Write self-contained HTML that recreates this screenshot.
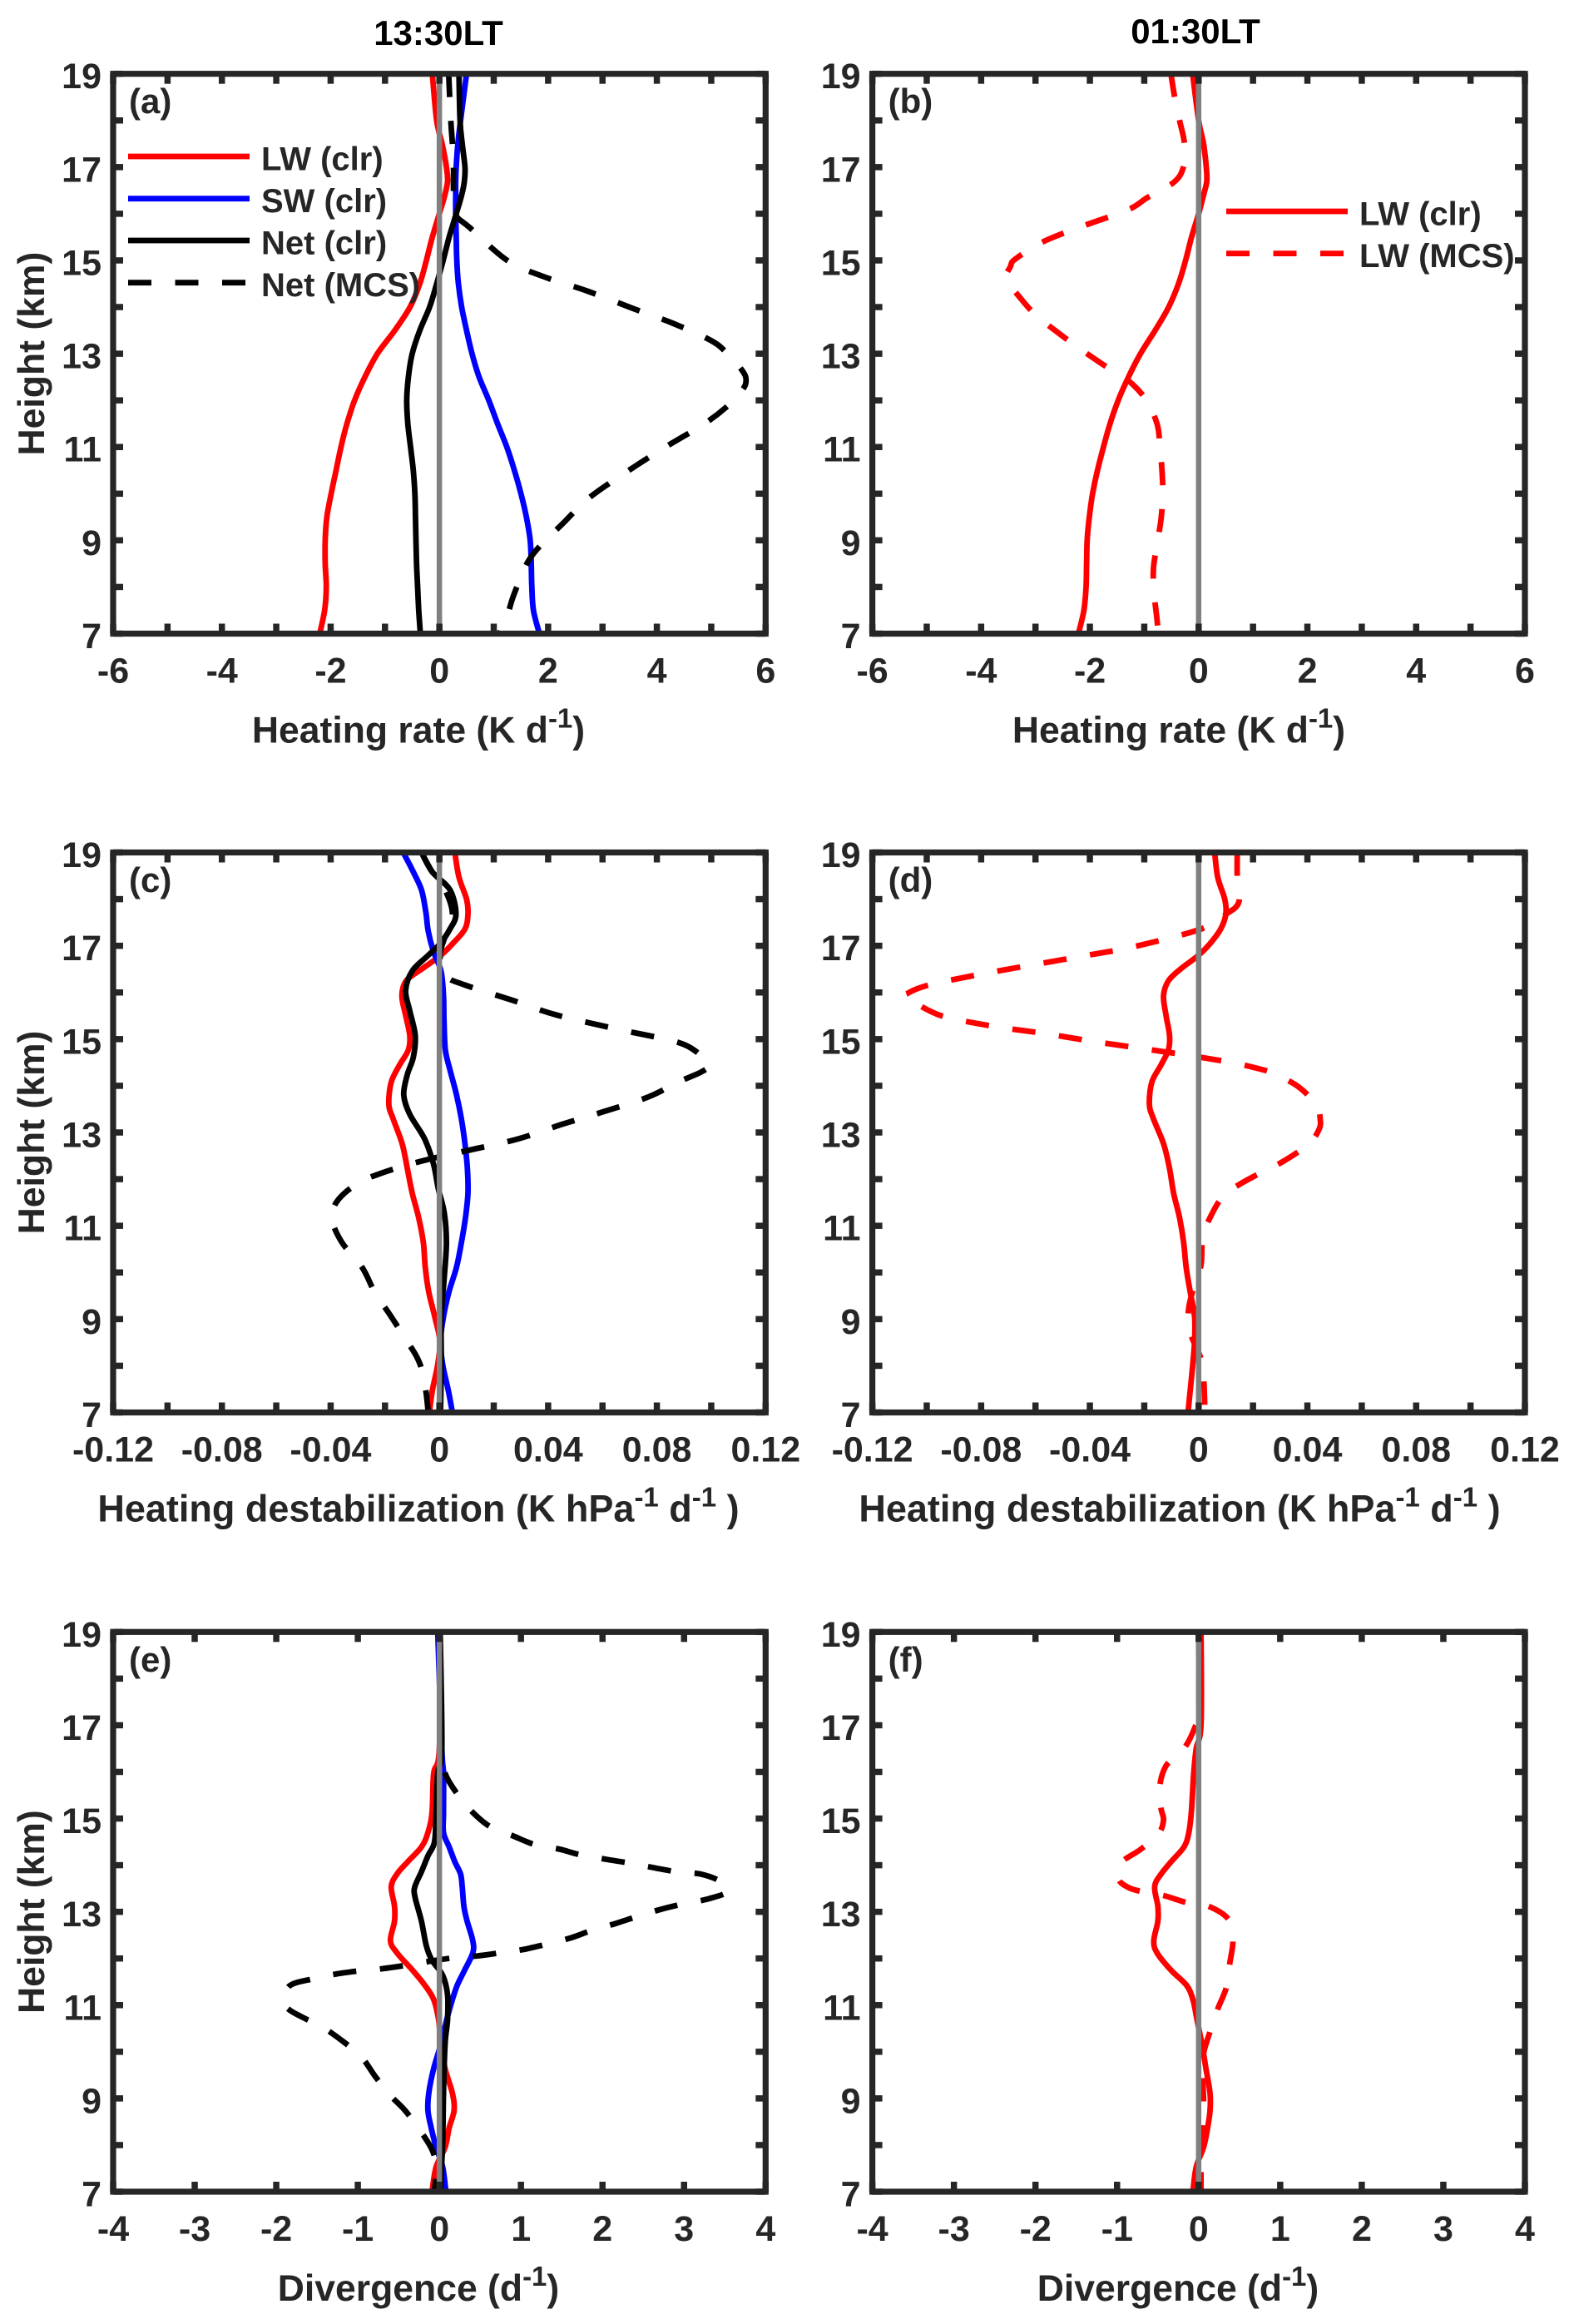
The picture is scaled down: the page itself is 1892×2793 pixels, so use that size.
<!DOCTYPE html>
<html lang="en">
<head>
<meta charset="utf-8">
<title>Heating rate, destabilization and divergence profiles</title>
<style>
html,body{margin:0;padding:0;background:#fff;}
svg{display:block;}
text{font-family:"Liberation Sans",Arial,sans-serif;font-weight:bold;fill:#262626;}
</style>
</head>
<body>
<svg id="figure" xmlns="http://www.w3.org/2000/svg" width="1892" height="2793" viewBox="0 0 1892 2793">
  <rect x="0" y="0" width="1892" height="2793" fill="#fff"/>
  <text x="527" y="54" font-size="42" text-anchor="middle" style="fill:#000">13:30LT</text>
  <text x="1437" y="52" font-size="42" text-anchor="middle" style="fill:#000">01:30LT</text>
</svg>
<script>
// ---- shared tick data ----
const heightTicks = [7,8,9,10,11,12,13,14,15,16,17,18,19];
const heightLabels = [7,9,11,13,15,17,19];
const heatTicks = [-6,-5,-4,-3,-2,-1,0,1,2,3,4,5,6];
const heatLabels = [-6,-4,-2,0,2,4,6];
const destabTicks = [-0.12,-0.1,-0.08,-0.06,-0.04,-0.02,0,0.02,0.04,0.06,0.08,0.1,0.12];
const destabLabels = [-0.12,-0.08,-0.04,0,0.04,0.08,0.12];
const divTicks = [-4,-3,-2,-1,0,1,2,3,4];
const divLabels = [-4,-3,-2,-1,0,1,2,3,4];

// ---- panel (a) heating rate 13:30 ----
const aKm = [19,18,17.5,17,16.7,16.4,16,15.5,15,14.5,14,13.5,13,12.5,12,11.5,11,10.5,10,9.5,9,8.5,8,7.5,7];
const aLw = [-0.13,-0.05,0.05,0.13,0.15,0.1,0,-0.13,-0.24,-0.36,-0.54,-0.82,-1.14,-1.37,-1.56,-1.7,-1.81,-1.9,-1.99,-2.07,-2.1,-2.1,-2.08,-2.11,-2.2];
const aSw = [0.5,0.39,0.34,0.31,0.3,0.3,0.3,0.31,0.32,0.35,0.41,0.5,0.6,0.73,0.91,1.07,1.24,1.38,1.5,1.6,1.67,1.69,1.7,1.73,1.84];
const aNet = [0.36,0.38,0.42,0.47,0.46,0.41,0.31,0.18,0.07,-0.05,-0.18,-0.36,-0.5,-0.57,-0.6,-0.58,-0.53,-0.48,-0.45,-0.44,-0.43,-0.42,-0.4,-0.38,-0.35];
const aMcsKm = [19,18,17.5,17,16.5,16,15.7,15,14.66,14.34,13.97,13.65,13.28,13.01,12.64,12.43,12.22,11.85,11.48,11,10.42,9.89,9.36,8.94,8.62,8.3,7.77,7.35,7];
const aMcs = [0.17,0.21,0.24,0.26,0.26,0.29,0.56,1.25,1.9,2.73,3.56,4.3,5,5.29,5.57,5.64,5.57,5.27,4.85,4.16,3.38,2.73,2.27,1.9,1.67,1.53,1.35,1.24,1.1];

// ---- panel (b) heating rate 01:30 ----
const bKm = [19,18,17.5,17,16.7,16.4,16,15.5,15,14.5,14,13.5,13,12.5,12,11.5,11,10.5,10,9.5,9,8.5,8,7.5,7];
const bLw = [-0.11,0,0.09,0.14,0.15,0.09,0,-0.13,-0.24,-0.37,-0.55,-0.8,-1.07,-1.29,-1.48,-1.63,-1.75,-1.86,-1.95,-2.01,-2.05,-2.06,-2.07,-2.11,-2.21];
const bMcsKm = [19,18.5,18,17.5,17,16.67,16.35,16.09,15.74,15.4,15.03,14.87,14.6,14.18,13.81,13.49,13.17,12.8,12.59,12.33,11.96,11.48,11,10.42,10,9.47,8.94,8.4,7.88,7.35,7];
const bMcs = [-0.51,-0.44,-0.35,-0.26,-0.28,-0.46,-0.94,-1.29,-2.12,-2.86,-3.37,-3.46,-3.53,-3.27,-2.98,-2.63,-2.26,-1.8,-1.52,-1.2,-0.94,-0.76,-0.71,-0.67,-0.66,-0.69,-0.76,-0.83,-0.82,-0.77,-0.74];

// ---- panel (c) destabilization 13:30 ----
const cLwKm = [19,18.47,18,17.68,17.36,17.04,16.78,16.51,16.25,15.93,15.51,15.08,14.77,14.45,14.08,13.6,13.29,12.76,12.23,11.7,11.17,10.64,10.11,9.58,9.05,8.52,8,7.47,7];
const cLw = [0.0057,0.0072,0.01,0.0105,0.0094,0.0048,0.0002,-0.0063,-0.0122,-0.0138,-0.0124,-0.0109,-0.0114,-0.0146,-0.0177,-0.0186,-0.017,-0.0137,-0.0118,-0.01,-0.0076,-0.0059,-0.0052,-0.0039,-0.0017,0.0002,-0.0007,-0.0026,-0.0037];
const cSwKm = [19,18.63,18.2,17.73,17.31,16.88,16.46,15.93,15.4,14.77,14.34,13.81,13.29,12.76,12.23,11.7,11.17,10.64,10.11,9.58,9.05,8.52,8,7.47,7];
const cSw = [-0.0133,-0.01,-0.0066,-0.005,-0.0041,-0.0022,0.0006,0.0015,0.0017,0.0022,0.0039,0.0063,0.0081,0.0094,0.0103,0.0105,0.0096,0.0081,0.0063,0.0035,0.0015,0.0004,0.0013,0.0033,0.0048];
const cNetKm = [19,18.58,18.2,17.68,17.36,17.04,16.78,16.46,16.04,15.61,15.08,14.61,14.24,13.81,13.39,12.86,12.33,11.8,11.28,10.64,9.9,9.05,8,7];
const cNet = [-0.0066,-0.0026,0.0039,0.0061,0.0039,0.0002,-0.0044,-0.01,-0.0124,-0.0109,-0.0089,-0.0096,-0.0118,-0.0131,-0.0109,-0.0054,-0.0022,-0.0004,0.0018,0.0026,0.0018,0.0007,0.0007,0.0004];
const cMcsKm = [19,18.58,18.2,17.68,17.2,16.78,16.35,16.16,15.83,15.51,15.19,14.93,14.66,14.45,14.29,14.08,13.76,13.44,13.18,12.86,12.6,12.39,12.17,11.96,11.7,11.43,11.12,10.64,10.11,9.58,9.05,8.52,8.21,7.94,7.47,7];
const cMcs = [-0.0066,-0.0026,0.0021,0.0048,0.0021,0.0002,0.0026,0.0094,0.027,0.0435,0.0675,0.0878,0.0961,0.0993,0.0961,0.0878,0.0768,0.0601,0.0454,0.0288,0.0094,-0.0063,-0.0192,-0.0284,-0.0349,-0.0386,-0.0395,-0.0358,-0.0284,-0.0238,-0.0177,-0.0118,-0.0085,-0.0066,-0.005,-0.0041];

// ---- panel (d) destabilization 01:30 ----
const dLwKm = [19,18.47,18,17.68,17.36,17.04,16.78,16.51,16.25,15.93,15.51,15.08,14.77,14.45,14.08,13.6,13.29,12.76,12.23,11.7,11.17,10.64,10.11,9.58,9.05,8.52,8,7.47,7];
const dLw = [0.0059,0.007,0.0096,0.01,0.0081,0.0041,-0.0004,-0.0065,-0.0111,-0.0129,-0.012,-0.0107,-0.0111,-0.0138,-0.0172,-0.0181,-0.0166,-0.0129,-0.0107,-0.0092,-0.007,-0.0055,-0.0046,-0.0031,-0.0015,-0.0015,-0.0022,-0.0031,-0.0039];
const dMcsKm = [19,18.47,17.94,17.68,17.36,16.99,16.8,16.62,16.44,16.25,16.12,15.98,15.91,15.61,15.45,15.26,15.12,14.96,14.81,14.66,14.5,14.38,14.26,13.97,13.58,13.29,13.07,12.76,12.39,12.17,11.91,11.65,11.22,10.75,10.16,9.74,9.21,8.74,8.15,7.76,7.23,7];
const dMcs = [0.0142,0.0142,0.0148,0.0102,0.0009,-0.0231,-0.0406,-0.0582,-0.0757,-0.0923,-0.1015,-0.1071,-0.1076,-0.0991,-0.0914,-0.0738,-0.0567,-0.0397,-0.0222,-0.0046,0.012,0.0212,0.0277,0.0369,0.0434,0.0447,0.0443,0.0406,0.0314,0.024,0.0157,0.0092,0.0046,0.0015,0.0009,-0.0015,-0.0037,-0.0033,0.0009,0.0018,0.0022,0.0022];

// ---- panel (e) divergence 13:30 ----
const eKm = [19,16.5,15.97,15.13,14.7,14.39,14.07,13.81,13.54,13.12,12.8,12.38,12.12,11.75,11.43,11.12,10.69,10.17,9.64,9.11,8.74,8.37,7.95,7.53,7];
const eLw = [0.01,0,-0.07,-0.09,-0.14,-0.22,-0.39,-0.52,-0.59,-0.55,-0.55,-0.6,-0.52,-0.33,-0.18,-0.07,-0.01,0.02,0.07,0.16,0.18,0.12,0.07,-0.04,-0.09];
const eSw = [-0.02,0.03,0.05,0.05,0.05,0.12,0.19,0.26,0.28,0.3,0.34,0.41,0.41,0.31,0.22,0.16,0.09,0.02,-0.07,-0.13,-0.14,-0.1,-0.04,0.04,0.08];
const eNetKm = [19,16.5,15.97,15.13,14.5,14.2,13.86,13.54,13.33,12.8,12.27,11.96,11.64,11.22,10.69,10.17,9.11,8.05,7];
const eNet = [0.01,0.03,-0.02,-0.04,-0.06,-0.14,-0.22,-0.3,-0.3,-0.22,-0.16,-0.09,0.04,0.1,0.1,0.07,0.05,0.04,0.01];
const eMcsKm = [19,17.5,16.5,15.97,15.5,15.13,14.83,14.63,14.44,14.34,14.21,14.05,13.86,13.81,13.65,13.44,13.28,13.17,13.05,12.91,12.75,12.59,12.44,12.3,12.19,12.12,12.05,12.01,11.94,11.85,11.78,11.73,11.66,11.56,11.41,11.06,10.9,10.75,10.5,10.22,9.9,9.48,9.08,8.74,8.32,7.9,7.53,7];
const eMcs = [0,0.01,0.02,0.07,0.23,0.41,0.62,0.9,1.17,1.48,1.76,2.31,2.9,3.2,3.45,3.54,3.3,2.99,2.71,2.44,2.16,1.85,1.61,1.3,1.02,0.74,0.44,0.16,-0.12,-0.42,-0.7,-1,-1.29,-1.56,-1.84,-1.9,-1.84,-1.69,-1.41,-1.18,-0.96,-0.79,-0.61,-0.42,-0.24,-0.09,-0.04,-0.06];

// ---- panel (f) divergence 01:30 ----
const fKm = [19,17.03,16.5,15.97,15.13,14.7,14.39,14.07,13.81,13.54,13.12,12.8,12.38,12.12,11.75,11.43,11.12,10.69,10.17,9.64,9.11,8.74,8.37,7.95,7.53,7];
const fLw = [0.03,0.03,-0.03,-0.06,-0.09,-0.12,-0.18,-0.34,-0.46,-0.54,-0.5,-0.5,-0.55,-0.51,-0.34,-0.15,-0.07,-0.02,0.04,0.09,0.14,0.14,0.11,0.06,-0.03,-0.07];
const fMcsKm = [19,17.3,16.94,16.5,16.13,15.65,15.21,14.97,14.68,14.34,14.05,13.7,13.52,13.44,13.35,13.2,13.12,12.83,12.38,11.88,11.38,10.9,10.43,9.96,9.48,8.95,8.42,7.9,7];
const fMcs = [0,0,-0.05,-0.18,-0.4,-0.48,-0.46,-0.43,-0.49,-0.71,-0.95,-0.98,-0.86,-0.71,-0.43,-0.15,0.12,0.37,0.42,0.38,0.34,0.23,0.14,0.06,0.05,0.06,0.05,0.03,0.03];

const NS = 'http://www.w3.org/2000/svg';
const fig = document.getElementById('figure');
const INK = '#262626';

function mk(parent, tag, attrs) {
  const el = document.createElementNS(NS, tag);
  for (const k in attrs) el.setAttribute(k, attrs[k]);
  parent.appendChild(el);
  return el;
}

function smoothPath(pts) {
  let d = 'M' + pts[0][0].toFixed(1) + ' ' + pts[0][1].toFixed(1);
  for (let i = 0; i < pts.length - 1; i++) {
    const p0 = pts[Math.max(0, i - 1)], p1 = pts[i], p2 = pts[i + 1], p3 = pts[Math.min(pts.length - 1, i + 2)];
    const c1x = p1[0] + (p2[0] - p0[0]) / 6, c1y = p1[1] + (p2[1] - p0[1]) / 6;
    const c2x = p2[0] - (p3[0] - p1[0]) / 6, c2y = p2[1] - (p3[1] - p1[1]) / 6;
    d += 'C' + c1x.toFixed(1) + ' ' + c1y.toFixed(1) + ' ' + c2x.toFixed(1) + ' ' + c2y.toFixed(1) + ' ' + p2[0].toFixed(1) + ' ' + p2[1].toFixed(1);
  }
  return d;
}

function drawSeries(g, p, s) {
  const pts = s.km.map((k, i) => [p.x(s.val[i]), p.y(k)]);
  const el = mk(g, 'path', {
    d: smoothPath(pts), fill: 'none', stroke: s.color,
    'stroke-width': 6.8, 'stroke-linejoin': 'round',
    'clip-path': 'url(#clip-' + p.id + ')'
  });
  if (s.dashed) {
    el.setAttribute('stroke-dasharray', '28 28.5');
  }
  
  
}

function drawPanel(p) {
  const g = mk(fig, 'g', {});
  
  

  p.x = v => p.left + (v - p.xMin) / (p.xMax - p.xMin) * (p.right - p.left);
  p.y = v => p.bottom - (v - 7) / 12 * (p.bottom - p.top);

  const cp = mk(g, 'clipPath', {id: 'clip-' + p.id});
  mk(cp, 'rect', {x: p.left, y: p.top, width: p.right - p.left, height: p.bottom - p.top});

  p.series.forEach(s => drawSeries(g, p, s));

  const zero = mk(g, 'line', {x1: p.x(0), x2: p.x(0), y1: p.top, y2: p.bottom, stroke: '#808080', 'stroke-width': 6.5});
  
  

  const axes = mk(g, 'g', {stroke: INK, 'stroke-width': 7.5});
  
  
  const tl = 12;
  p.xTicks.forEach(v => {
    mk(axes, 'line', {x1: p.x(v), x2: p.x(v), y1: p.bottom, y2: p.bottom - tl});
    mk(axes, 'line', {x1: p.x(v), x2: p.x(v), y1: p.top, y2: p.top + tl});
  });
  heightTicks.forEach(v => {
    mk(axes, 'line', {x1: p.left, x2: p.left + tl, y1: p.y(v), y2: p.y(v)});
    mk(axes, 'line', {x1: p.right, x2: p.right - tl, y1: p.y(v), y2: p.y(v)});
  });

  const box = mk(g, 'rect', {x: p.left, y: p.top, width: p.right - p.left, height: p.bottom - p.top, fill: 'none', stroke: INK, 'stroke-width': 7.2});
  
  

  p.xLabels.forEach(v => {
    const t = mk(g, 'text', {x: p.x(v), y: p.bottom + 59, 'font-size': 43, 'text-anchor': 'middle'});
    t.textContent = String(v);
    
    
  });
  heightLabels.forEach(v => {
    const t = mk(g, 'text', {x: p.left - 14, y: p.y(v) + 17.5, 'font-size': 43, 'text-anchor': 'end'});
    t.textContent = String(v);
    
    
  });

  const letter = mk(g, 'text', {x: p.left + 19, y: p.top + 47.5, 'font-size': 42});
  letter.textContent = '(' + p.id + ')';
  
  

  const title = mk(g, 'text', {x: p.titleX, y: p.bottom + 131, 'font-size': p.titleSize, 'text-anchor': 'middle'});
  
  
  p.title.forEach(part => {
    const ts = mk(title, 'tspan', {});
    ts.textContent = part[0];
    if (part[1] === 'sup') { ts.setAttribute('font-size', '33'); ts.setAttribute('dy', '-18'); }
    if (part[1] === 'down') { ts.setAttribute('dy', '18'); }
  });

  if (p.showHeight) {
    const yt = mk(g, 'text', {x: 0, y: 0, 'font-size': 44.5, 'text-anchor': 'middle',
      transform: 'translate(53 ' + ((p.top + p.bottom) / 2) + ') rotate(-90)'});
    yt.textContent = 'Height (km)';
    
    
  }

  if (p.legend) {
    p.legend.forEach(e => {
      const lg = mk(g, 'g', {});
      
      
      const ln = mk(lg, 'line', {x1: e.x, x2: e.x + 146, y1: e.y, y2: e.y, stroke: e.color, 'stroke-width': 6.8});
      if (e.dashed) ln.setAttribute('stroke-dasharray', '28 28.5');
      const t = mk(lg, 'text', {x: e.x + 160, y: e.y + 16.5, 'font-size': 40});
      t.textContent = e.label;
    });
  }
}

const RED = '#ff0000', BLUE = '#0000ff', BLACK = '#000000';
const heatTitle = [['Heating rate (K d'], ['-1', 'sup'], [')', 'down']];
const destabTitle = [['Heating destabilization (K hPa'], ['-1', 'sup'], [' d', 'down'], ['-1', 'sup'], [' )', 'down']];
const divTitle = [['Divergence (d'], ['-1', 'sup'], [')', 'down']];
const colL = [136, 920.3], colR = [1048.6, 1833];
const row1 = [88.7, 761.5], row2 = [1024.5, 1697.5], row3 = [1961.3, 2634];

drawPanel({id:'a', left:colL[0], right:colL[1], top:row1[0], bottom:row1[1], xMin:-6, xMax:6, xTicks:heatTicks, xLabels:heatLabels, titleX:503, titleSize:44.5, title:heatTitle, showHeight:true,
  series:[
    {name:'lw-clr', km:aKm, val:aLw, color:RED},
    {name:'sw-clr', km:aKm, val:aSw, color:BLUE},
    {name:'net-mcs', km:aMcsKm, val:aMcs, color:BLACK, dashed:true},
    {name:'net-clr', km:aKm, val:aNet, color:BLACK}
  ],
  legend:[
    {x:154, y:188, color:RED, label:'LW (clr)'},
    {x:154, y:238.7, color:BLUE, label:'SW (clr)'},
    {x:154, y:289, color:BLACK, label:'Net (clr)'},
    {x:154, y:339.7, color:BLACK, dashed:true, label:'Net (MCS)'}
  ]});
drawPanel({id:'b', left:colR[0], right:colR[1], top:row1[0], bottom:row1[1], xMin:-6, xMax:6, xTicks:heatTicks, xLabels:heatLabels, titleX:1417, titleSize:44.5, title:heatTitle, showHeight:false,
  series:[
    {name:'lw-mcs', km:bMcsKm, val:bMcs, color:RED, dashed:true},
    {name:'lw-clr', km:bKm, val:bLw, color:RED}
  ],
  legend:[
    {x:1474, y:254, color:RED, label:'LW (clr)'},
    {x:1474, y:304.6, color:RED, dashed:true, label:'LW (MCS)'}
  ]});
drawPanel({id:'c', left:colL[0], right:colL[1], top:row2[0], bottom:row2[1], xMin:-0.12, xMax:0.12, xTicks:destabTicks, xLabels:destabLabels, titleX:503, titleSize:45, title:destabTitle, showHeight:true,
  series:[
    {name:'lw-clr', km:cLwKm, val:cLw, color:RED},
    {name:'sw-clr', km:cSwKm, val:cSw, color:BLUE},
    {name:'net-mcs', km:cMcsKm, val:cMcs, color:BLACK, dashed:true},
    {name:'net-clr', km:cNetKm, val:cNet, color:BLACK}
  ]});
drawPanel({id:'d', left:colR[0], right:colR[1], top:row2[0], bottom:row2[1], xMin:-0.12, xMax:0.12, xTicks:destabTicks, xLabels:destabLabels, titleX:1418, titleSize:45, title:destabTitle, showHeight:false,
  series:[
    {name:'lw-mcs', km:dMcsKm, val:dMcs, color:RED, dashed:true},
    {name:'lw-clr', km:dLwKm, val:dLw, color:RED}
  ]});
drawPanel({id:'e', left:colL[0], right:colL[1], top:row3[0], bottom:row3[1], xMin:-4, xMax:4, xTicks:divTicks, xLabels:divLabels, titleX:503, titleSize:44.5, title:divTitle, showHeight:true,
  series:[
    {name:'lw-clr', km:eKm, val:eLw, color:RED},
    {name:'sw-clr', km:eKm, val:eSw, color:BLUE},
    {name:'net-mcs', km:eMcsKm, val:eMcs, color:BLACK, dashed:true},
    {name:'net-clr', km:eNetKm, val:eNet, color:BLACK}
  ]});
drawPanel({id:'f', left:colR[0], right:colR[1], top:row3[0], bottom:row3[1], xMin:-4, xMax:4, xTicks:divTicks, xLabels:divLabels, titleX:1416, titleSize:44.5, title:divTitle, showHeight:false,
  series:[
    {name:'lw-mcs', km:fMcsKm, val:fMcs, color:RED, dashed:true},
    {name:'lw-clr', km:fKm, val:fLw, color:RED}
  ]});
</script>
</body>
</html>
